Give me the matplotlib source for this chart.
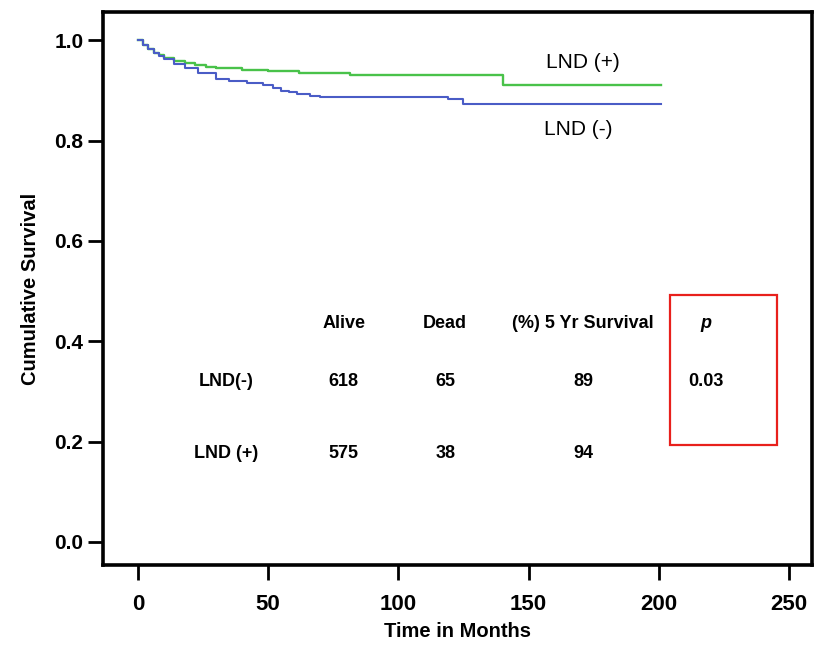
import matplotlib
matplotlib.use("Agg")
import matplotlib.pyplot as plt
from matplotlib.patches import Rectangle

plt.rcParams['font.family'] = ['Liberation Sans', 'DejaVu Sans']

# Kaplan-Meier curves
t_pos = [0, 2, 4, 6, 8, 10, 14, 18, 22, 26, 30, 40, 50, 62, 81.5, 140, 201]
s_pos = [1.0, 0.99, 0.982, 0.975, 0.97, 0.964, 0.958, 0.954, 0.95, 0.946,
         0.944, 0.941, 0.938, 0.934, 0.930, 0.911, 0.911]
t_neg = [0, 2, 4, 6, 8, 10, 14, 18, 23, 30, 35, 42, 48, 52, 55, 58, 61, 66,
         70, 119, 125, 201]
s_neg = [1.0, 0.99, 0.982, 0.975, 0.968, 0.962, 0.952, 0.944, 0.934, 0.922,
         0.918, 0.914, 0.911, 0.905, 0.90, 0.897, 0.894, 0.89, 0.887, 0.883,
         0.873, 0.873]

col_headers = ["Alive", "Dead", "(%) 5 Yr Survival", "p"]
row_labels = ["LND(-)", "LND (+)"]
alive = ["618", "575"]
dead = ["65", "38"]
surv5 = ["89", "94"]
pvals = ["0.03", ""]

fig = plt.figure(figsize=(8.29, 6.45), dpi=100)
ax = fig.add_axes([0.124, 0.124, 0.856, 0.857])

ax.step(t_pos, s_pos, where='post', color='#49c24a', lw=1.7)
ax.step(t_neg, s_neg, where='post', color='#4a5cc6', lw=1.5)

ax.text(171, 0.955, "LND (+)", fontsize=15, ha='center', va='center')
ax.text(169, 0.823, "LND (-)", fontsize=15, ha='center', va='center')

# table inside the plot (data coordinates)
col_x = [79, 118, 171, 218]
row_y = [0.436, 0.319, 0.177]
for x, h in zip(col_x, col_headers):
    ax.text(x, row_y[0], h, fontsize=13, fontweight='bold', ha='center',
            va='center', style='italic' if h == 'p' else 'normal')
for i, lab in enumerate(row_labels):
    y = row_y[i + 1]
    ax.text(34, y, lab, fontsize=13, fontweight='bold', ha='center', va='center')
    for x, v in zip(col_x, [alive[i], dead[i], surv5[i], pvals[i]]):
        ax.text(x, y, v, fontsize=13, fontweight='bold', ha='center', va='center')

ax.add_patch(Rectangle((204.2, 0.193), 41.2, 0.299, fill=False,
                       edgecolor='#e8201c', lw=1.6))

ax.set_xlim(-13.5, 259)
ax.set_ylim(-0.046, 1.056)
ax.set_xticks([0, 50, 100, 150, 200, 250])
ax.set_yticks([0.0, 0.2, 0.4, 0.6, 0.8, 1.0])
ax.set_yticklabels(["0.0", "0.2", "0.4", "0.6", "0.8", "1.0"])
ax.tick_params(direction='out', length=11, width=2, pad=3)
ax.tick_params(axis='x', labelsize=16, pad=10)
ax.tick_params(axis='y', labelsize=15)
for lab in ax.get_xticklabels() + ax.get_yticklabels():
    lab.set_fontweight('bold')
for sp in ax.spines.values():
    sp.set_linewidth(2.6)

ax.set_xlabel("Time in Months", fontsize=14.5, fontweight='bold', labelpad=5)
ax.set_ylabel("Cumulative Survival", fontsize=14.5, fontweight='bold', labelpad=10)

fig.savefig("out.png", dpi=100)
